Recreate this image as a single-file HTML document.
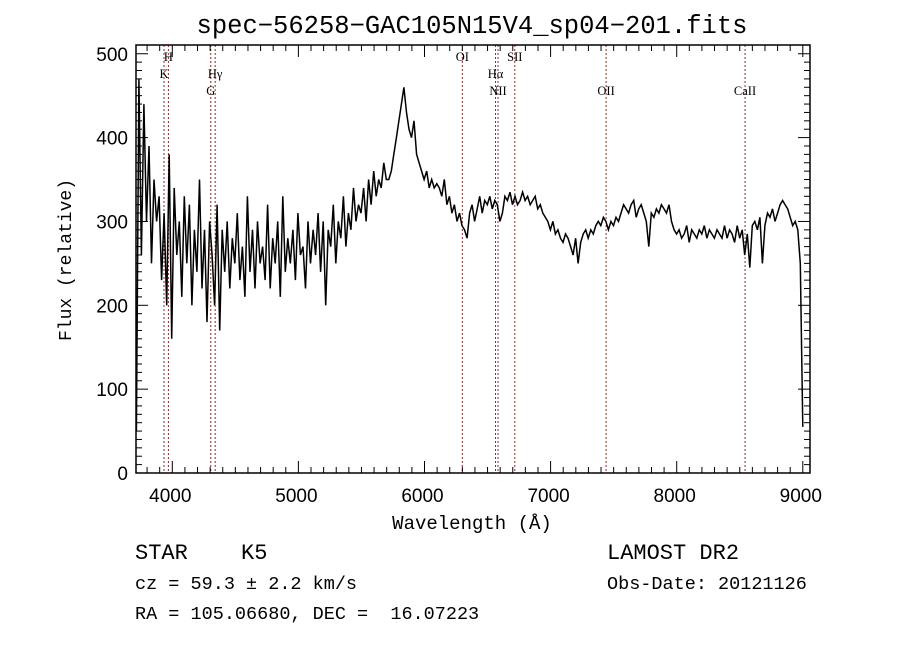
<!DOCTYPE html>
<html><head><meta charset="utf-8"><style>
body{margin:0;background:#fff;}
svg{display:block;}
text{fill:#000;white-space:pre;}
</style></head><body>
<svg id="chart" width="900" height="649" xmlns="http://www.w3.org/2000/svg" font-family="Liberation Sans, sans-serif">
<rect width="900" height="649" fill="#fff"/>
<text x="472" y="33" font-size="25.5" text-anchor="middle" font-family="Liberation Mono, monospace">spec−56258−GAC105N15V4_sp04−201.fits</text>
<g id="lines"></g>
<path id="spec" fill="none" stroke="#000" stroke-width="1.5"/>
<g id="axes"></g>
<text x="472" y="529" font-size="19" text-anchor="middle" font-family="Liberation Mono, monospace">Wavelength (Å)</text>
<text transform="translate(71,260) rotate(-90)" font-size="18" text-anchor="middle" font-family="Liberation Mono, monospace">Flux (relative)</text>
<text x="135" y="559" font-size="22" font-family="Liberation Mono, monospace">STAR</text>
<text x="241" y="559" font-size="22" font-family="Liberation Mono, monospace">K5</text>
<text x="135" y="589" font-size="18.5" font-family="Liberation Mono, monospace">cz = 59.3 ± 2.2 km/s</text>
<text x="135" y="619" font-size="18.5" font-family="Liberation Mono, monospace">RA = 105.06680, DEC =&#160; 16.07223</text>
<text x="607" y="559" font-size="22" font-family="Liberation Mono, monospace">LAMOST DR2</text>
<text x="607" y="589" font-size="18.5" font-family="Liberation Mono, monospace">Obs-Date: 20121126</text>
</svg>
<script>
const flux = [50,470,260,440,300,390,250,350,300,330,
230,310,200,380,160,340,260,300,210,330,
250,320,200,290,240,350,220,290,180,300,
260,200,320,170,290,240,300,220,280,250,
310,230,270,210,330,240,290,220,300,250,
270,230,320,220,280,250,300,210,330,240,
280,250,290,230,310,260,270,220,300,250,
290,260,310,240,300,200,290,270,320,250,
300,280,330,270,310,290,340,300,320,310,
340,300,350,320,360,330,350,340,370,350,
350,360,380,400,420,440,460,430,410,400,
420,380,370,360,350,360,340,350,340,345,
340,330,350,320,330,310,320,300,310,295,
290,280,310,320,300,315,330,310,325,320,
330,315,325,320,300,310,330,325,335,320,
330,320,325,335,325,330,320,325,330,315,
320,310,305,300,290,300,285,290,280,275,
285,280,270,260,280,250,275,285,290,280,
290,285,295,300,295,305,300,290,300,295,
305,300,310,320,315,310,320,325,305,315,
320,310,300,270,310,305,315,310,320,315,
310,320,300,290,285,290,280,285,295,275,
290,285,280,290,285,295,280,290,285,280,
290,285,280,295,280,290,285,275,295,280,
290,260,285,245,295,300,290,305,250,295,
310,305,315,300,310,320,325,320,315,305,
295,300,290,250,55];
const waveStart = 3715, waveEnd = 9000;
const xTicks = [4000,5000,6000,7000,8000,9000];
const yTicks = [0,100,200,300,400,500];
const lineNames = ["K","H","G","Hγ","OI","Hα","NII","SII","OII","CaII"];
const lineWaves = [3934,3969,4305,4340,6300,6563,6583,6716,7440,8542];
const lineRows = [1,0,2,1,0,1,2,0,2,2];

const L=136,R=810,T=45,B=473;
const X = w => 172.3 + (w-4000)*0.1261;
const Y = v => B - v*0.8385;
const NS="http://www.w3.org/2000/svg";
function mk(tag, attrs, parent){const e=document.createElementNS(NS,tag);for(const k in attrs)e.setAttribute(k,attrs[k]);parent.appendChild(e);return e;}

const lg=document.getElementById('lines');
const rowY=[61,78,95];
lineWaves.forEach((w,i)=>{
  const l=mk('line',{x1:X(w),x2:X(w),y1:T,y2:B,stroke:'#8b2a2a','stroke-width':1,'stroke-dasharray':'2,2'},lg);
  
  
  const t=mk('text',{x:X(w),y:rowY[lineRows[i]],'font-size':12.5,'text-anchor':'middle','font-family':'Liberation Serif, serif'},lg);
  t.textContent=lineNames[i];
  
  
});

const step=(waveEnd-waveStart)/(flux.length-1);
let d='';
flux.forEach((v,i)=>{const w=waveStart+i*step;d+=(i?'L':'M')+X(w).toFixed(1)+','+Math.max(T,Y(v)).toFixed(1);});
document.getElementById('spec').setAttribute('d',d);

const ax=document.getElementById('axes');
const fr=mk('rect',{x:L,y:T,width:R-L,height:B-T,fill:'none',stroke:'#000','stroke-width':1.5},ax);


for(let w=3800;w<=9000;w+=100){
  const major=w%1000===0, len=major?12:6, x=X(w);
  if(x<L||x>R)continue;
  mk('line',{x1:x,x2:x,y1:B,y2:B-len,stroke:'#000'},ax);
  mk('line',{x1:x,x2:x,y1:T,y2:T+len,stroke:'#000'},ax);
}
for(let v=0;v<=500;v+=10){
  const major=v%100===0, len=major?12:6, y=Y(v);
  mk('line',{x1:L,x2:L+len,y1:y,y2:y,stroke:'#000'},ax);
  mk('line',{x1:R,x2:R-len,y1:y,y2:y,stroke:'#000'},ax);
}
xTicks.forEach(w=>{
  const t=mk('text',{x:X(w)-2,y:502,'font-size':19,'text-anchor':'middle'},ax);
  t.textContent=w;
  
  
});
yTicks.forEach(v=>{
  const t=mk('text',{x:128,y:Y(v)+7,'font-size':19,'text-anchor':'end'},ax);
  t.textContent=v;
  
  
});
</script>
</body></html>
